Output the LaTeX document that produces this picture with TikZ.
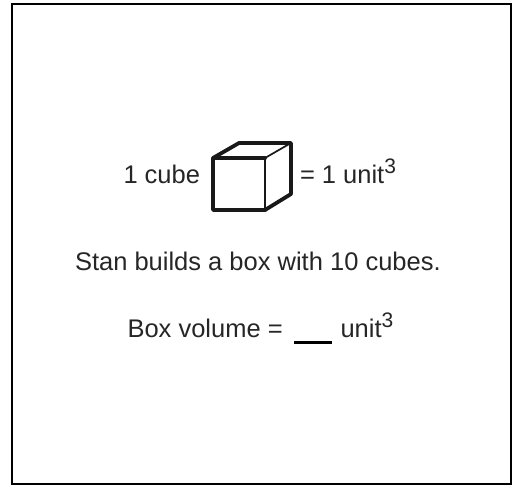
\documentclass[tikz,border=0pt]{standalone}
\usepackage{fontspec}
\setmainfont{Liberation Sans}
\newcommand{\cubed}{\raisebox{9.5pt}{\fontsize{21}{24}\selectfont 3}}
\tikzset{
  lbl/.style={inner sep=0pt,outer sep=0pt,font=\fontsize{25.5}{30}\selectfont,text=black!85,anchor=base west},
  frame/.style={draw=black,line width=2pt},
  thickedge/.style={draw=black!90,line width=3.8pt,line cap=round,line join=round},
  thinedge/.style={draw=black!90,line width=1.7pt,line cap=round}
}
\begin{document}
\begin{tikzpicture}[x=1pt,y=-1pt]
\useasboundingbox (0,0) rectangle (516,485);
\fill[white] (0,0) rectangle (516,485);
\draw[frame] (12,4) rectangle (511,484);
\node[lbl] (a) at (123.5,183) {1 cube};
\node[lbl] (b) at (300,183) {= 1 unit\cubed};
\node[lbl] (c) at (75,270) {Stan builds a box with 10 cubes.};
\node[lbl] (d) at (127.5,337) {Box volume =};
\node[lbl] (e) at (340.5,337) {unit\cubed};
\coordinate (f1) at (213,158);
\coordinate (f2) at (265,158);
\coordinate (f3) at (265,210);
\coordinate (f4) at (213,210);
\coordinate (b1) at (239,143);
\coordinate (b2) at (291,143);
\coordinate (b3) at (291,194);
\draw[thickedge] (f2) -- (f1) -- (f4) -- (f3);
\draw[thickedge] (f1) -- (b1) -- (b2) -- (b3) -- (f3);
\draw[thinedge] (f2) -- (f3);
\draw[thinedge] (f2) -- (b2);
\coordinate (u1) at (294,342);
\coordinate (u2) at (332,342);
\draw[draw=black,line width=3pt] (u1) -- (u2);
\end{tikzpicture}
\end{document}
